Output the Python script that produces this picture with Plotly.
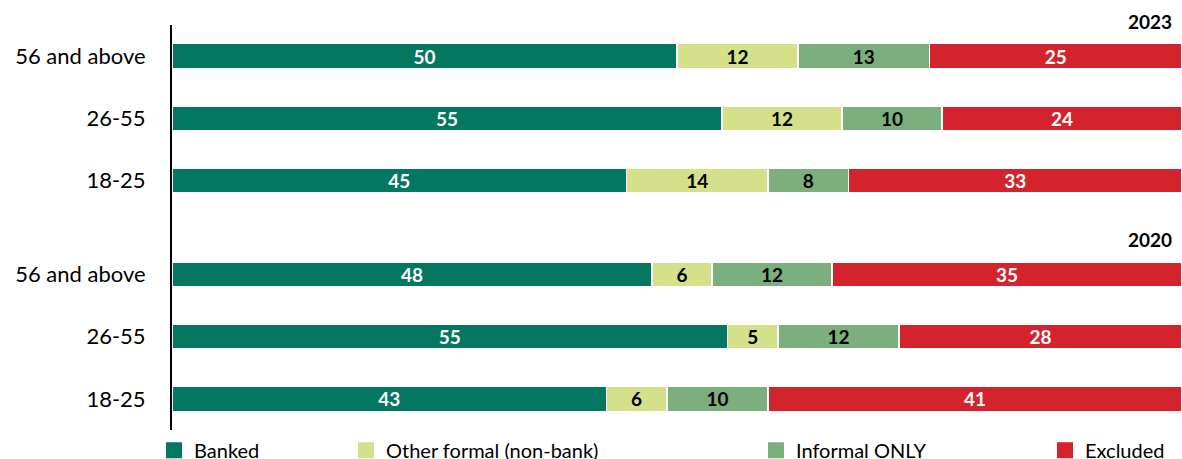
import plotly.graph_objects as go

# Account ownership shares by age group (percent of adults)
age_groups = ["18-25", "26-55", "56 and above"]
years = ["2020", "2023"]

# rows run bottom to top: 2020 (18-25, 26-55, 56+), then 2023 (18-25, 26-55, 56+)
row_years = ["2020", "2020", "2020", "2023", "2023", "2023"]
row_ages = age_groups + age_groups

banked = [43, 55, 48, 45, 55, 50]
other_formal = [6, 5, 6, 14, 12, 12]
informal_only = [10, 12, 12, 8, 10, 13]
excluded = [41, 28, 35, 33, 24, 25]

series = [
    ("Banked", banked, "#03775f", "white"),
    ("Other formal (non-bank)", other_formal, "#d4e08a", "black"),
    ("Informal ONLY", informal_only, "#7caf7d", "black"),
    ("Excluded", excluded, "#d3232c", "white"),
]

FONT = "Lato"

# vertical slot for each row, with an extra half-slot between the year groups
GROUP_GAP = 0.5
y_pos = [i + GROUP_GAP * years.index(yr) for i, yr in enumerate(row_years)]
y_min, y_max = -0.5, max(y_pos) + 0.5

legend_x = [-0.0178, 0.1723, 0.5782, 0.8644]
legend_names = ["legend", "legend2", "legend3", "legend4"]

fig = go.Figure()
for name, vals, color, txtcolor in series:
    fig.add_trace(go.Bar(
        name=name,
        orientation="h",
        x=vals,
        y=y_pos,
        width=0.4,
        marker=dict(color=color, line=dict(color="white", width=1.5)),
        text=[str(v) for v in vals],
        textposition="inside",
        insidetextanchor="middle",
        textangle=0,
        constraintext="none",
        insidetextfont=dict(family=FONT, size=19, color=txtcolor, weight="bold"),
        showlegend=False,
        hovertemplate=name + ": %{text}<extra></extra>",
    ))

# legend keys: one square swatch per series, each in its own legend box
for (name, vals, color, txtcolor), lg in zip(series, legend_names):
    fig.add_trace(go.Scatter(
        name=name, x=[None], y=[None], mode="markers",
        marker=dict(symbol="square", size=16, color=color),
        legend=lg, showlegend=True, hoverinfo="skip",
    ))

layout_legends = {}
for lg, lx in zip(legend_names, legend_x):
    layout_legends[lg] = dict(
        x=lx, xanchor="left", y=-0.05, yanchor="middle",
        orientation="h", bgcolor="rgba(0,0,0,0)",
        itemsizing="trace",
        font=dict(family=FONT, size=20, color="black"),
        itemclick=False, itemdoubleclick=False,
    )

fig.update_layout(
    width=1182, height=459,
    margin=dict(l=172, r=0, t=25, b=29, autoexpand=False),
    barmode="stack",
    barnorm="percent",
    plot_bgcolor="white",
    paper_bgcolor="white",
    font=dict(family=FONT, size=18, color="black"),
    xaxis=dict(range=[0, 100], visible=False, fixedrange=True),
    yaxis=dict(
        range=[y_min, y_max],
        tickvals=y_pos,
        ticktext=row_ages,
        showline=True, linecolor="black", linewidth=2,
        showgrid=False, zeroline=False, ticks="",
        ticklabelstandoff=20,
        tickfont=dict(family=FONT, size=22, color="black"),
        fixedrange=True,
    ),
    showlegend=True,
    **layout_legends,
)

# year headings above each group
for yr in years:
    grp_top = max(p for p, r in zip(y_pos, row_years) if r == yr)
    fig.add_annotation(
        x=1, xref="paper", xanchor="right", xshift=-8,
        y=(grp_top + 0.55 - y_min) / (y_max - y_min), yref="paper", yanchor="middle",
        text="<b>" + yr + "</b>", showarrow=False,
        font=dict(family=FONT, size=19, color="black"),
    )

fig.write_html("out.html")
